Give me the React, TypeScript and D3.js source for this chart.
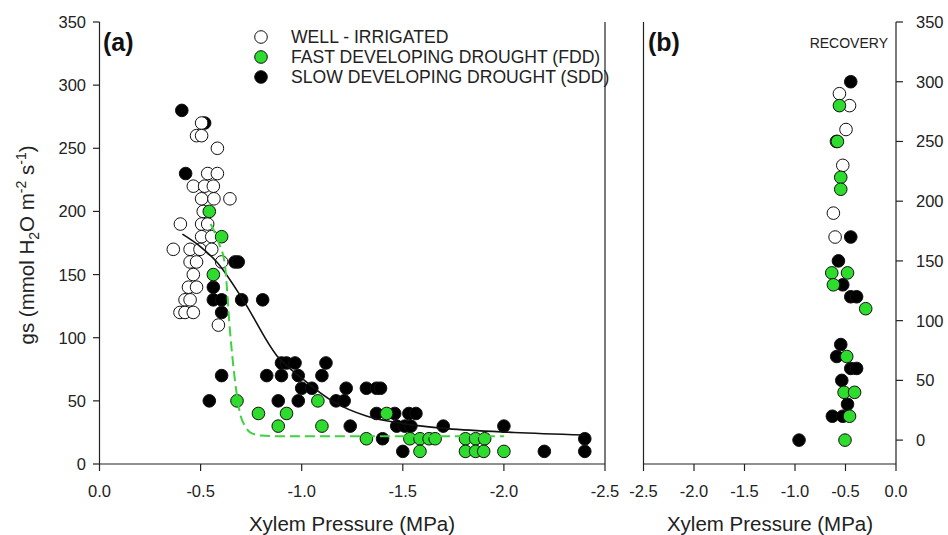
import React from "react";
import * as d3 from "d3";

type Pt = [number, number];

// Panel (a): gs vs xylem pressure during drought
const wellA: Pt[] = [
  [-0.505, 270], [-0.48, 260], [-0.505, 260], [-0.583, 250], [-0.535, 230], [-0.583, 230],
  [-0.464, 220], [-0.52, 220], [-0.563, 220], [-0.505, 210], [-0.566, 210], [-0.645, 210],
  [-0.513, 200], [-0.40, 190], [-0.505, 190], [-0.535, 190], [-0.505, 180], [-0.555, 180],
  [-0.365, 170], [-0.448, 170], [-0.497, 170], [-0.555, 170], [-0.448, 160], [-0.48, 160],
  [-0.604, 160], [-0.464, 150], [-0.44, 140], [-0.48, 140], [-0.423, 130], [-0.448, 130],
  [-0.398, 120], [-0.423, 120], [-0.464, 120], [-0.588, 110],
];
const fddA: Pt[] = [
  [-0.543, 200], [-0.604, 180], [-0.563, 150], [-0.68, 50], [-0.786, 40], [-0.925, 40],
  [-0.884, 30], [-1.10, 30], [-1.08, 50], [-1.32, 20], [-1.42, 40], [-1.535, 20],
  [-1.585, 20], [-1.63, 20], [-1.66, 20], [-1.585, 10], [-1.81, 20], [-1.86, 20],
  [-1.905, 20], [-1.81, 10], [-1.86, 10], [-1.90, 10], [-2.0, 10],
];
const sddA: Pt[] = [
  [-0.407, 280], [-0.52, 270], [-0.426, 230], [-0.67, 160], [-0.686, 160], [-0.563, 140],
  [-0.563, 130], [-0.604, 130], [-0.703, 130], [-0.807, 130], [-0.604, 120], [-0.604, 70],
  [-0.543, 50], [-0.827, 70], [-0.90, 80], [-0.925, 80], [-0.967, 80], [-0.90, 70],
  [-0.983, 70], [-1.12, 80], [-1.10, 70], [-1.0, 60], [-1.05, 60], [-0.884, 50],
  [-0.983, 50], [-1.17, 50], [-1.21, 50], [-1.22, 60], [-1.32, 60], [-1.37, 60],
  [-1.24, 30], [-1.40, 20], [-1.37, 40], [-1.46, 40], [-1.53, 40], [-1.565, 40],
  [-1.47, 30], [-1.51, 30], [-1.54, 30], [-1.70, 30], [-2.0, 30], [-1.50, 10],
  [-2.20, 10], [-2.40, 20], [-2.40, 10], [-1.39, 60],
];
// fitted curves
const sddFit: Pt[] = [
  [-0.41, 182], [-0.5, 172], [-0.58, 160], [-0.71, 130], [-0.876, 86], [-1.0, 68],
  [-1.16, 49], [-1.32, 38], [-1.5, 32], [-1.72, 28], [-2.05, 25], [-2.4, 23],
];
const fddFit: Pt[] = [
  [-0.55, 190], [-0.59, 175], [-0.62, 158], [-0.645, 106], [-0.67, 66], [-0.695, 40],
  [-0.72, 30], [-0.745, 25], [-0.8, 22.5], [-0.9, 22], [-1.4, 22], [-2.0, 22],
];

// Panel (b): recovery
const wellB: Pt[] = [
  [-0.56, 290], [-0.46, 280], [-0.495, 260], [-0.527, 230], [-0.62, 190], [-0.603, 170],
];
const fddB: Pt[] = [
  [-0.56, 280], [-0.59, 250], [-0.58, 250], [-0.547, 220], [-0.547, 210], [-0.636, 140],
  [-0.48, 140], [-0.62, 130], [-0.30, 110], [-0.488, 70], [-0.514, 40], [-0.41, 40],
  [-0.46, 20], [-0.505, 0],
];
const sddB: Pt[] = [
  [-0.448, 300], [-0.448, 170], [-0.57, 150], [-0.527, 130], [-0.448, 120], [-0.39, 120],
  [-0.547, 80], [-0.587, 70], [-0.448, 60], [-0.39, 60], [-0.537, 50], [-0.48, 30],
  [-0.63, 20], [-0.527, 20], [-0.96, 0],
];

const xTicksA = [0, -0.5, -1.0, -1.5, -2.0, -2.5];
const xTicksB = [-2.5, -2.0, -1.5, -1.0, -0.5, 0];
const yTicks = [0, 50, 100, 150, 200, 250, 300, 350];
const legendLabels = [
  "WELL - IRRIGATED",
  "FAST DEVELOPING DROUGHT (FDD)",
  "SLOW DEVELOPING DROUGHT (SDD)",
];

const FONT = "'Liberation Sans', Arial, sans-serif";
const GREEN = "#2edc2e";
const AXIS = "#222";
const R = 6.3;

// hyphen-minus like the original figure
const fmt = (v: number) => v.toFixed(1).replace("\u2212", "-");

export default function App() {
  const top = 22, bottom = 464;
  const xA = d3.scaleLinear().domain([0, -2.5]).range([99.5, 605]);
  const yA = d3.scaleLinear().domain([0, 350]).range([bottom, top]);
  const xB = d3.scaleLinear().domain([-2.5, 0]).range([643.5, 896]);
  const yB = d3.scaleLinear().domain([-20, 350]).range([bottom, top]);

  const lineA = d3
    .line<Pt>()
    .x((d) => xA(d[0]))
    .y((d) => yA(d[1]))
    .curve(d3.curveMonotoneX);

  const dots = (
    data: Pt[],
    xs: d3.ScaleLinear<number, number>,
    ys: d3.ScaleLinear<number, number>,
    fill: string,
    key: string
  ) =>
    data.map((d, i) => (
      <circle
        key={key + i}
        cx={xs(d[0])}
        cy={ys(d[1])}
        r={R}
        fill={fill}
        stroke="#111"
        strokeWidth={1}
      />
    ));

  return (
    <svg
      width={948}
      height={535}
      style={{ position: "absolute", left: 0, top: 0, background: "#fff" }}
      fontFamily={FONT}
    >
      {/* Panel (a) frame */}
      <g stroke={AXIS} strokeWidth={1.2} fill="none">
        <line x1={99.5} x2={99.5} y1={top} y2={bottom} />
        <line x1={99.5} x2={605} y1={bottom} y2={bottom} />
        <line x1={605} x2={605} y1={top} y2={bottom} />
      </g>
      {yTicks.map((t) => (
        <g key={"ya" + t}>
          <line x1={93} x2={99.5} y1={yA(t)} y2={yA(t)} stroke={AXIS} strokeWidth={1.2} />
          <text x={86} y={yA(t)} dy="0.36em" textAnchor="end" fontSize={16.5} fill="#222">
            {t}
          </text>
        </g>
      ))}
      {xTicksA.map((t) => (
        <g key={"xa" + t}>
          <line x1={xA(t)} x2={xA(t)} y1={bottom} y2={bottom + 7} stroke={AXIS} strokeWidth={1.2} />
          <text x={xA(t)} y={497} textAnchor="middle" fontSize={16.5} fill="#222">
            {fmt(t)}
          </text>
        </g>
      ))}
      <text x={352} y={531} textAnchor="middle" fontSize={20.5} fill="#222">
        Xylem Pressure (MPa)
      </text>
      <text
        transform={`translate(34,245) rotate(-90)`}
        textAnchor="middle"
        fontSize={20.5}
        fill="#222"
      >
        gs (mmol H
        <tspan fontSize={14} dy={5}>2</tspan>
        <tspan dy={-5}>O m</tspan>
        <tspan fontSize={14} dy={-8}>-2</tspan>
        <tspan dy={8}> s</tspan>
        <tspan fontSize={14} dy={-8}>-1</tspan>
        <tspan dy={8}>)</tspan>
      </text>
      <text x={103} y={51} fontSize={25} fontWeight="bold" fill="#111">
        (a)
      </text>

      {/* Panel (a) data */}
      {dots(sddA, xA, yA, "#000", "sa")}
      {dots(wellA, xA, yA, "#fff", "wa")}
      {dots(fddA, xA, yA, GREEN, "fa")}
      <path d={lineA(sddFit) || ""} fill="none" stroke="#111" strokeWidth={1.6} />
      <path
        d={lineA(fddFit) || ""}
        fill="none"
        stroke="#3fd13f"
        strokeWidth={2}
        strokeDasharray="10,5"
      />

      {/* Legend */}
      {legendLabels.map((lab, i) => (
        <g key={"lg" + i}>
          <circle
            cx={261}
            cy={37 + i * 20}
            r={R}
            fill={i === 0 ? "#fff" : i === 1 ? GREEN : "#000"}
            stroke="#111"
            strokeWidth={1}
          />
          <text x={291} y={37 + i * 20} dy="0.36em" fontSize={17.6} fill="#222">
            {lab}
          </text>
        </g>
      ))}

      {/* Panel (b) frame */}
      <g stroke={AXIS} strokeWidth={1.2} fill="none">
        <line x1={643.5} x2={643.5} y1={top} y2={bottom} />
        <line x1={643.5} x2={896} y1={bottom} y2={bottom} />
        <line x1={896} x2={896} y1={top} y2={bottom} />
      </g>
      {yTicks.map((t) => (
        <g key={"yb" + t}>
          <line x1={896} x2={903} y1={yB(t)} y2={yB(t)} stroke={AXIS} strokeWidth={1.2} />
          <text x={916} y={yB(t)} dy="0.36em" textAnchor="start" fontSize={16.5} fill="#222">
            {t}
          </text>
        </g>
      ))}
      {xTicksB.map((t) => (
        <g key={"xb" + t}>
          <line x1={xB(t)} x2={xB(t)} y1={bottom} y2={bottom + 7} stroke={AXIS} strokeWidth={1.2} />
          <text x={xB(t)} y={497} textAnchor="middle" fontSize={16.5} fill="#222">
            {fmt(t)}
          </text>
        </g>
      ))}
      <text x={770} y={531} textAnchor="middle" fontSize={20.5} fill="#222">
        Xylem Pressure (MPa)
      </text>
      <text x={648} y={51} fontSize={25} fontWeight="bold" fill="#111">
        (b)
      </text>
      <text x={888} y={48} textAnchor="end" fontSize={14} fill="#222">
        RECOVERY
      </text>

      {/* Panel (b) data */}
      {dots(sddB, xB, yB, "#000", "sb")}
      {dots(wellB, xB, yB, "#fff", "wb")}
      {dots(fddB, xB, yB, GREEN, "fb")}
    </svg>
  );
}
